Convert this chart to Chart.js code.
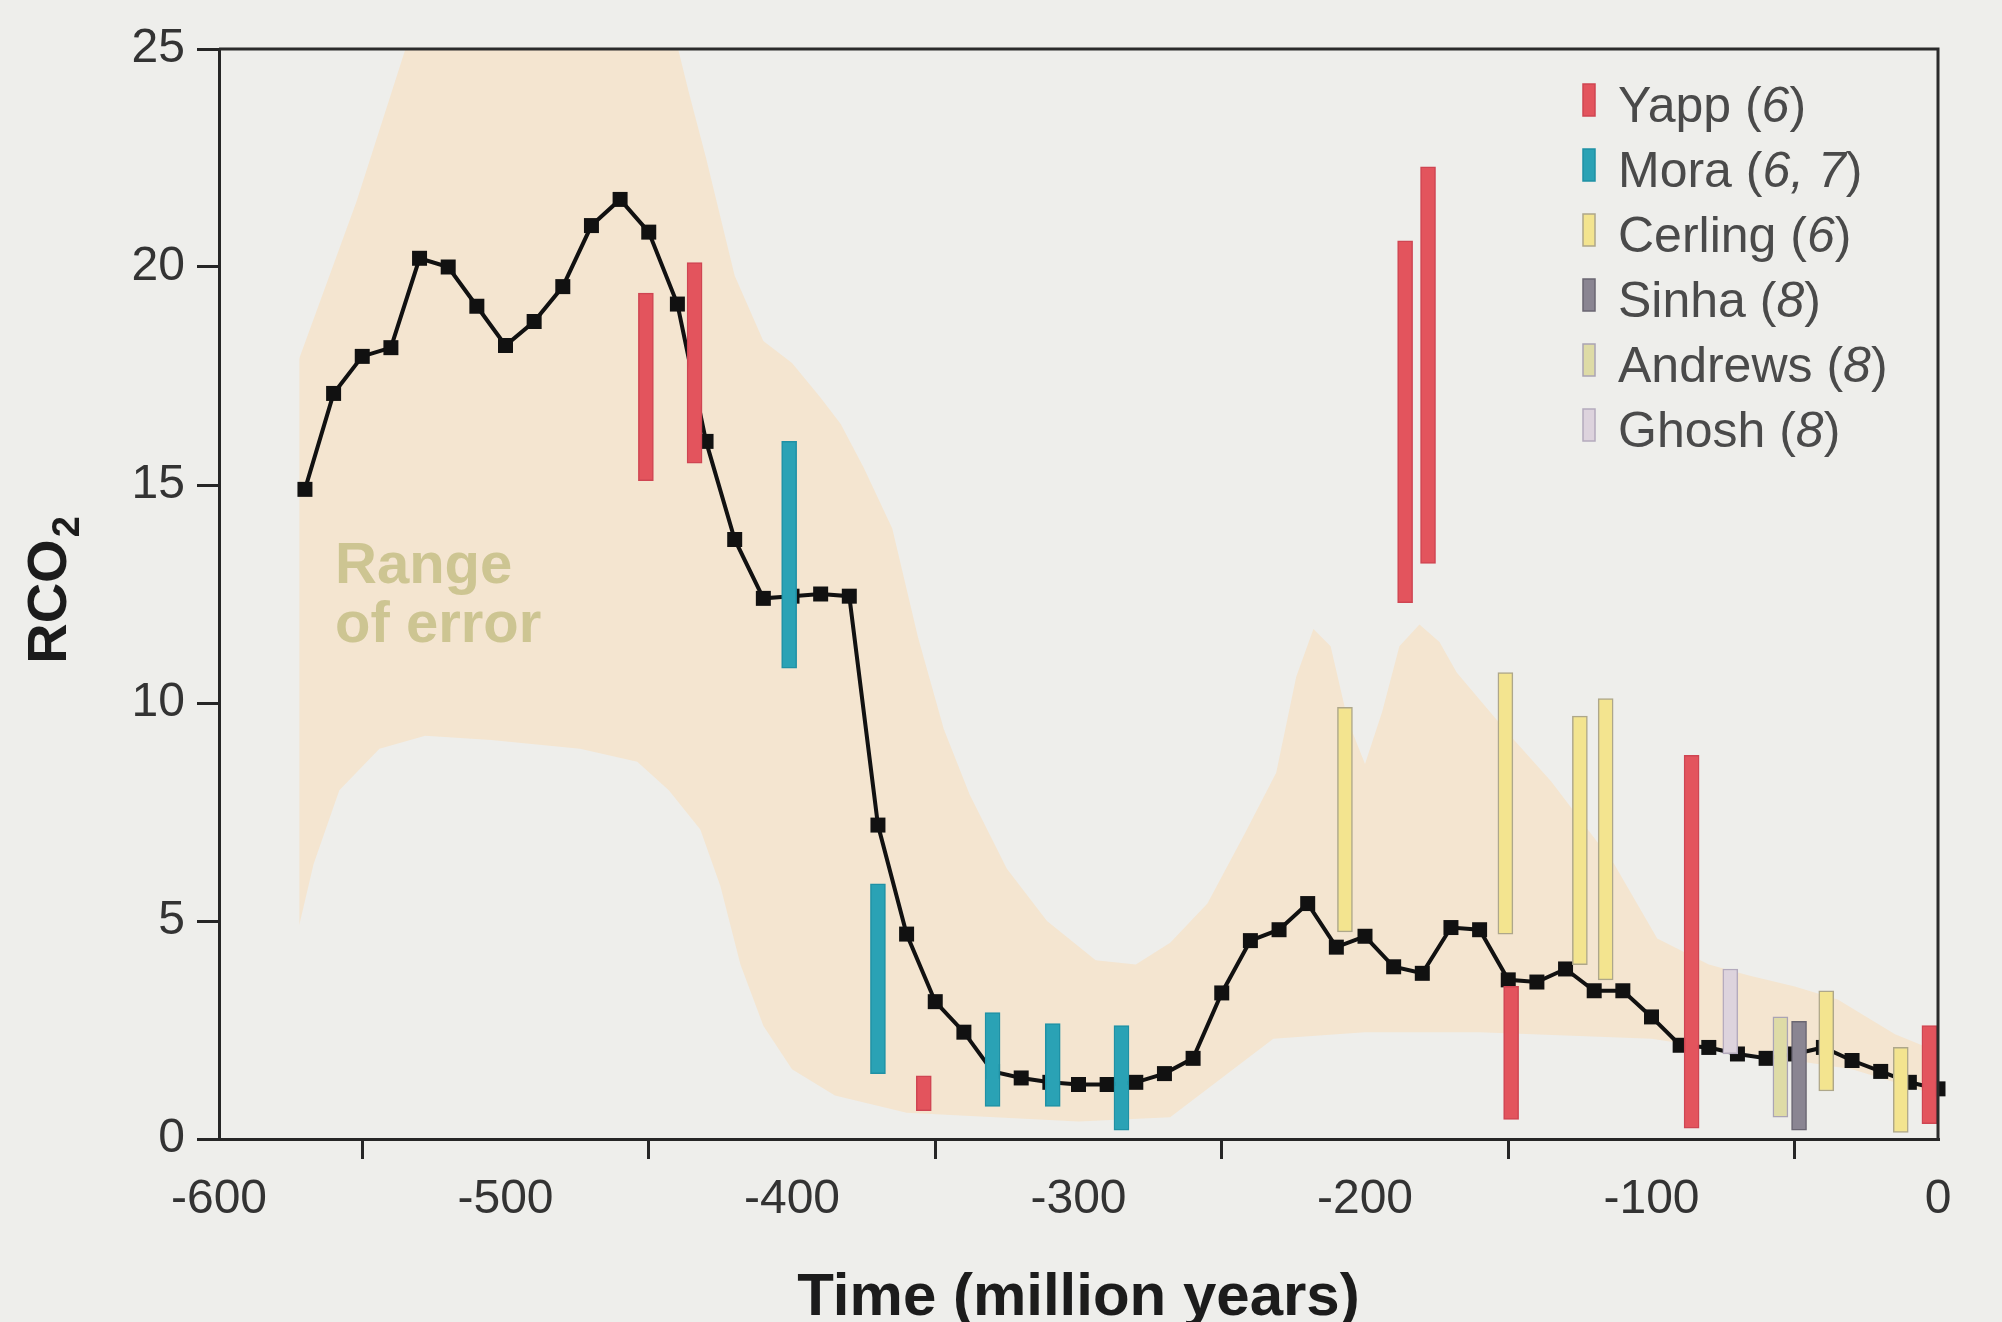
<!DOCTYPE html>
<html lang="en">
<head>
<meta charset="utf-8">
<title>RCO2 through time</title>
<script src="https://cdn.jsdelivr.net/npm/chart.js@4.4.1/dist/chart.umd.min.js"></script>
<style>
  html, body { margin: 0; padding: 0; background: #eeeeeb; }
  #box { position: relative; width: 2002px; height: 1322px; }
</style>
</head>
<body>
<div id="box"><canvas id="rco2"></canvas></div>
<script>
const FONT = '"Liberation Sans", Arial, Helvetica, sans-serif';

// model curve, one point every 10 My
const modelTime = [-570, -560, -550, -540, -530, -520, -510, -500, -490, -480,
  -470, -460, -450, -440, -430, -420, -410, -400, -390, -380,
  -370, -360, -350, -340, -330, -320, -310, -300, -290, -280,
  -270, -260, -250, -240, -230, -220, -210, -200, -190, -180,
  -170, -160, -150, -140, -130, -120, -110, -100, -90, -80,
  -70, -60, -50, -40, -30, -20, -10, 0];
const modelRCO2 = [14.9, 17.1, 17.95, 18.15, 20.2, 20.0, 19.1, 18.2, 18.75, 19.55,
  20.95, 21.55, 20.8, 19.15, 16.0, 13.75, 12.4, 12.45, 12.5, 12.45,
  7.2, 4.7, 3.15, 2.45, 1.55, 1.4, 1.3, 1.25, 1.25, 1.3,
  1.5, 1.85, 3.35, 4.55, 4.8, 5.4, 4.4, 4.65, 3.95, 3.8,
  4.85, 4.8, 3.65, 3.6, 3.9, 3.4, 3.4, 2.8, 2.15, 2.1,
  1.95, 1.85, 1.95, 2.1, 1.8, 1.55, 1.3, 1.15];

// range of error, upper and lower edge
const bandTopTime = [-572, -552, -532, -442, -436, -430, -420, -410, -400, -390,
  -383, -375, -365, -356, -347, -338, -325, -311, -294, -280,
  -268, -255, -242, -231, -224, -218, -212, -206, -200, -194,
  -188, -181, -174, -168, -150, -135, -113, -98, -80, -66,
  -50, -35, -15, 0];
const bandTop = [17.9, 21.5, 25.6, 25.6, 24.0, 22.5, 19.8, 18.3, 17.8, 17.0,
  16.4, 15.4, 14.0, 11.5, 9.4, 7.9, 6.2, 5.0, 4.1, 4.0,
  4.5, 5.4, 7.0, 8.4, 10.6, 11.7, 11.3, 9.6, 8.6, 9.8,
  11.3, 11.8, 11.4, 10.7, 9.3, 8.2, 6.3, 4.6, 4.0, 3.75,
  3.5, 3.2, 2.4, 2.0];
const bandLowTime = [-572, -567, -558, -544, -528, -505, -474, -454, -443, -432,
  -425, -418, -410, -400, -385, -360, -300, -268, -250, -232,
  -200, -160, -100, -60, -30, 0];
const bandLow = [4.9, 6.3, 8.0, 8.95, 9.25, 9.15, 8.95, 8.65, 8.0, 7.1,
  5.8, 4.0, 2.6, 1.6, 1.0, 0.6, 0.4, 0.5, 1.4, 2.3,
  2.45, 2.45, 2.3, 1.9, 1.6, 1.0];

// proxy estimates: [time, low, high]
const yapp = [[-451, 15.1, 19.4], [-434, 15.5, 20.1], [-354, 0.65, 1.45], [-186, 12.3, 20.6],
  [-178, 13.2, 22.3], [-149, 0.45, 3.5], [-86, 0.25, 8.8], [-3, 0.35, 2.6]];
const mora = [[-401, 10.8, 16.0], [-370, 1.5, 5.85], [-330, 0.75, 2.9], [-309, 0.75, 2.65], [-285, 0.2, 2.6]];
const cerling = [[-207, 4.75, 9.9], [-151, 4.7, 10.7], [-125, 4.0, 9.7], [-116, 3.65, 10.1],
  [-39, 1.1, 3.4], [-13, 0.15, 2.1]];
const sinha = [[-48.5, 0.2, 2.7]];
const andrews = [[-55, 0.5, 2.8]];
const ghosh = [[-72.5, 1.95, 3.9]];

const sources = ['Yapp', 'Mora', 'Cerling', 'Sinha', 'Andrews', 'Ghosh'];
const sourceRefs = ['6', '6, 7', '6', '8', '8', '8'];
const proxyData = [yapp, mora, cerling, sinha, andrews, ghosh];

const sourceFill = ['#e3545d', '#2aa2b5', '#f3e48f', '#8a8592', '#dedba6', '#ddd3dd'];
const sourceEdge = ['#cf4552', '#1f91a5', '#aea78a', '#6a6672', '#aaa4b4', '#b4aabd'];

const xTicks = [-600, -500, -400, -300, -200, -100, 0];
const yTicks = [0, 5, 10, 15, 20, 25];

let pts = (t, v) => t.map((x, i) => ({x: x, y: v[i]}));
let bars = rows => rows.map(r => ({x: r[0], y: [r[1], r[2]]}));

let datasets = proxyData.map((rows, i) => ({
  type: 'bar',
  label: sources[i],
  data: bars(rows),
  backgroundColor: sourceFill[i],
  borderColor: sourceEdge[i],
  borderWidth: 1.5,
  borderSkipped: false,
  barThickness: 15,
  grouped: false,
  order: 0,
  clip: false
}));

datasets.push({
  type: 'line',
  label: 'RCO2',
  data: pts(modelTime, modelRCO2),
  borderColor: '#111',
  borderWidth: 4,
  pointStyle: 'rect',
  pointRadius: 10.6,
  pointBackgroundColor: '#111',
  pointBorderWidth: 0,
  tension: 0,
  order: 1,
  clip: false
});

// band: upper edge filled down to the lower edge
datasets.push({
  type: 'line',
  label: 'Range of error',
  data: pts(bandTopTime, bandTop),
  borderWidth: 0,
  borderColor: 'rgba(0,0,0,0)',
  backgroundColor: '#f4e5d0',
  pointRadius: 0,
  fill: '+1',
  order: 2
});
datasets.push({
  type: 'line',
  label: 'band low',
  data: pts(bandLowTime, bandLow),
  borderWidth: 0,
  borderColor: 'rgba(0,0,0,0)',
  pointRadius: 0,
  fill: false,
  order: 2
});

const paperDecor = {
  id: 'paperDecor',
  afterDraw(chart) {
    const ctx = chart.ctx;
    const area = chart.chartArea;
    const xs = chart.scales.x;
    const ys = chart.scales.y;
    ctx.save();

    // top and right frame
    ctx.strokeStyle = '#2b2b2b';
    ctx.lineWidth = 3;
    ctx.beginPath();
    ctx.moveTo(area.left, area.top);
    ctx.lineTo(area.right, area.top);
    ctx.lineTo(area.right, area.bottom);
    ctx.stroke();

    // y title with a real subscript
    ctx.save();
    ctx.translate(46, (area.top + area.bottom) / 2 - 4);
    ctx.rotate(-Math.PI / 2);
    ctx.fillStyle = '#1c1c1c';
    ctx.textBaseline = 'alphabetic';
    ctx.font = 'bold 56px ' + FONT;
    let wMain = ctx.measureText('RCO').width;
    ctx.font = 'bold 38px ' + FONT;
    let wSub = ctx.measureText('2').width;
    let sx = -(wMain + wSub + 2) / 2;
    ctx.font = 'bold 56px ' + FONT;
    ctx.fillText('RCO', sx, 20);
    ctx.font = 'bold 38px ' + FONT;
    ctx.fillText('2', sx + wMain + 2, 33);
    ctx.restore();

    // band label
    ctx.fillStyle = '#cdc592';
    ctx.font = 'bold 58px ' + FONT;
    ctx.textBaseline = 'alphabetic';
    ctx.textAlign = 'left';
    ctx.fillText('Range', xs.getPixelForValue(-559.5), ys.getPixelForValue(12.75));
    ctx.fillText('of error', xs.getPixelForValue(-559.5), ys.getPixelForValue(11.4));

    // legend
    const lx = area.right - 355;
    sources.forEach((name, i) => {
      const ds = chart.data.datasets[i];
      const base = area.top + 73 + i * 65;
      ctx.fillStyle = ds.backgroundColor;
      ctx.fillRect(lx, base - 38, 12, 32);
      ctx.strokeStyle = ds.borderColor;
      ctx.lineWidth = 1.5;
      ctx.strokeRect(lx, base - 38, 12, 32);

      let tx = lx + 35;
      ctx.fillStyle = '#4a4a4a';
      ctx.font = '50px ' + FONT;
      let head = name + ' (';
      ctx.fillText(head, tx, base);
      tx += ctx.measureText(head).width;
      ctx.font = 'italic 50px ' + FONT;
      ctx.fillText(sourceRefs[i], tx, base);
      tx += ctx.measureText(sourceRefs[i]).width;
      ctx.font = '50px ' + FONT;
      ctx.fillText(')', tx, base);
    });
    ctx.restore();
  }
};

let ctx = document.getElementById('rco2').getContext('2d');

let rco2Chart = new Chart(ctx, {
  type: 'line',
  data: { datasets: datasets },
  options: {
    responsive: true,
    maintainAspectRatio: false,
    animation: false,
    events: [],
    layout: { padding: { left: 0, right: 64, top: 49, bottom: 0 } },
    plugins: {
      legend: { display: false },
      tooltip: { enabled: false }
    },
    scales: {
      x: {
        type: 'linear',
        min: -600,
        max: 0,
        offset: false,
        afterBuildTicks: s => { s.ticks = xTicks.map(v => ({ value: v })); },
        afterFit: s => { s.height = 183; },
        ticks: {
          color: '#333',
          padding: 12,
          maxRotation: 0,
          autoSkip: false,
          font: { family: FONT, size: 48 },
          callback: v => String(v)
        },
        grid: { drawOnChartArea: false, tickLength: 20, color: '#262626', lineWidth: 3 },
        border: { color: '#262626', width: 3 },
        title: {
          display: true,
          text: 'Time (million years)',
          color: '#1c1c1c',
          padding: 0,
          font: { family: FONT, size: 60, weight: 'bold', lineHeight: 0.8 }
        }
      },
      y: {
        min: 0,
        max: 25,
        afterBuildTicks: s => { s.ticks = yTicks.map(v => ({ value: v })); },
        afterFit: s => { s.width = 219; },
        ticks: {
          color: '#333',
          padding: 12,
          font: { family: FONT, size: 48 },
          callback: v => String(v)
        },
        grid: { drawOnChartArea: false, tickLength: 22, color: '#262626', lineWidth: 3 },
        border: { color: '#262626', width: 3 },
        title: { display: false }
      }
    }
  },
  plugins: [paperDecor]
});
</script>
</body>
</html>
